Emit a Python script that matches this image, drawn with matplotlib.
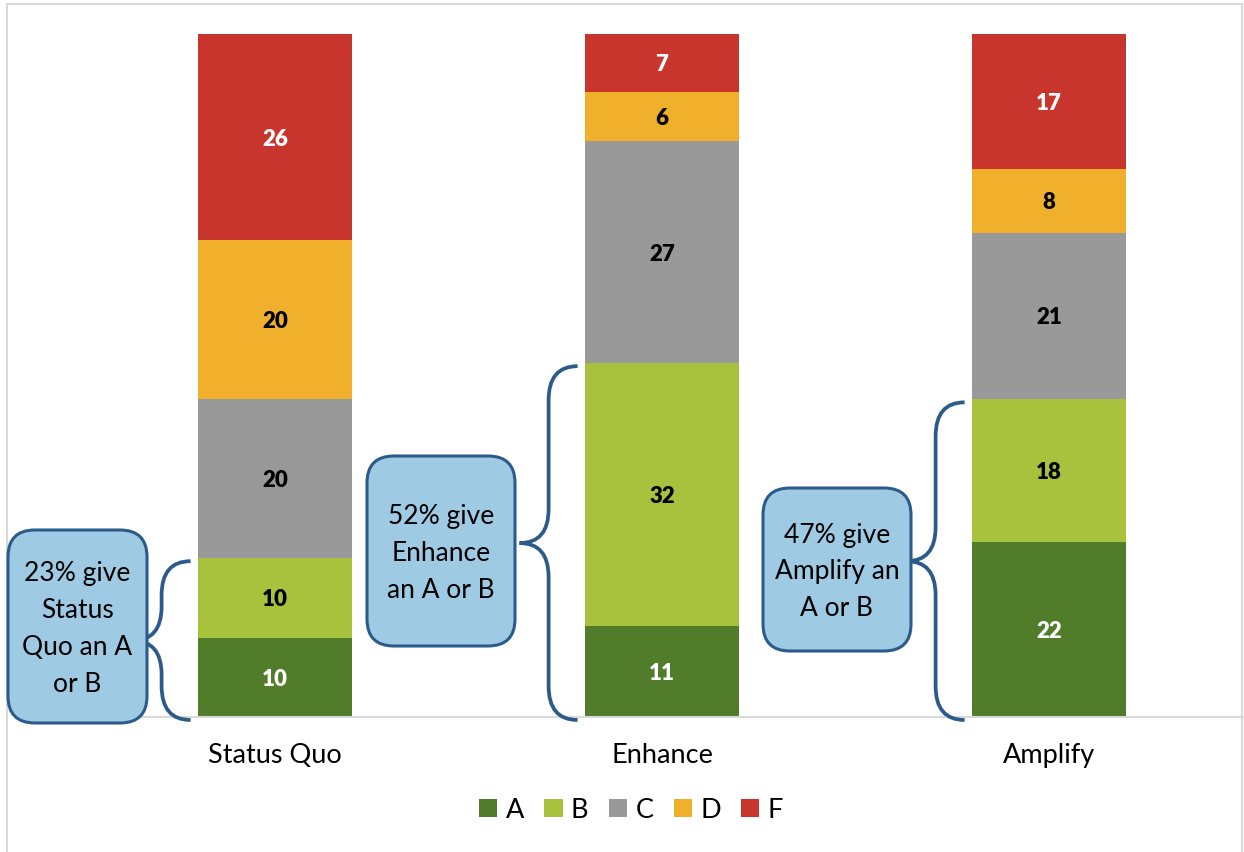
import matplotlib
matplotlib.use("Agg")
import matplotlib.pyplot as plt
from matplotlib.patches import FancyBboxPatch, PathPatch, Rectangle
from matplotlib.path import Path
from matplotlib.transforms import blended_transform_factory
import numpy as np

plt.rcParams["font.family"] = ["Lato", "DejaVu Sans"]

# ---- data -------------------------------------------------------------
categories = ["Status Quo", "Enhance", "Amplify"]
grades = ["A", "B", "C", "D", "F"]
grade_a = [10, 11, 22]
grade_b = [10, 32, 18]
grade_c = [20, 27, 21]
grade_d = [20, 6, 8]
grade_f = [26, 7, 17]
grade_colors = ["#517D2A", "#A8C23D", "#999999", "#F0B02C", "#C7352C"]
value_text_colors = ["white", "black", "black", "black", "white"]

# callout wording, split into lines; {pct} is filled from the A+B share
callout_lines = [
    ["{pct}% give", "Status", "Quo an A", "or B"],
    ["{pct}% give", "Enhance", "an A or B"],
    ["{pct}% give", "Amplify an", "A or B"],
]

# ---- figure -------------------------------------------------------------
W, H = 1244, 852
fig = plt.figure(figsize=(W / 100, H / 100), dpi=100)
ax = fig.add_axes([81.5 / W, 135 / H, 1161 / W, 683 / H])

series = np.array([grade_a, grade_b, grade_c, grade_d, grade_f], dtype=float)
totals = series.sum(axis=0)
shares = series / totals
x = np.arange(len(categories))
bar_w = 0.4

bottom = np.zeros(len(categories))
for g, vals, sh, col, tcol in zip(grades, series, shares, grade_colors, value_text_colors):
    ax.bar(x, sh, bar_w, bottom=bottom, color=col, label=g, linewidth=0, zorder=2)
    for xi, v, s, b in zip(x, vals, sh, bottom):
        ax.text(xi, b + s / 2, f"{int(v)}", ha="center", va="center_baseline",
                fontsize=16, fontweight="heavy", color=tcol, zorder=3)
    bottom += sh

ax.set_xlim(-0.5, len(categories) - 0.5)
ax.set_ylim(0, 1)
for side in ["left", "right", "top"]:
    ax.spines[side].set_visible(False)
ax.spines["bottom"].set_color("#D9D9D9")
ax.spines["bottom"].set_linewidth(1.5)
ax.set_xticks([])
ax.set_yticks([])

# category names under the bars
btrans = blended_transform_factory(ax.transData, ax.transAxes)
for xi, name in zip(x, categories):
    ax.text(xi, -(763 - 717) / 683, name, transform=btrans, ha="center",
            va="baseline", fontsize=19.5, color="black")

# legend
handles, labels = ax.get_legend_handles_labels()
fig.legend(handles, labels, loc="center", bbox_to_anchor=(631 / W, 1 - 810 / H),
           ncol=5, frameon=False, fontsize=19.5, handlelength=0.68,
           handleheight=0.68, handletextpad=0.3, columnspacing=0.75,
           borderaxespad=0)

# outer frame
fig.add_artist(Rectangle((7 / W, -0.05), (1242 - 7) / W, 1 - 4 / H + 0.05,
                         transform=fig.transFigure, fill=False,
                         edgecolor="#D9D9D9", linewidth=1.5))

# ---- callouts and braces ---------------------------------------------------
inch = fig.dpi_scale_trans
edge = "#2C5B8B"
fill = "#9FCAE3"

boxes_px = [(8, 530, 147, 723), (367, 456, 515, 646), (763, 488, 911, 651)]


def px(xp, yp):
    """top-left pixel coordinates -> inches from bottom-left"""
    return xp / 100, (H - yp) / 100


ab_share = shares[0] + shares[1]
for i, (x0, y0, x1, y1) in enumerate(boxes_px):
    bx, by = px(x0, y1)
    box = FancyBboxPatch((bx, by), (x1 - x0) / 100, (y1 - y0) / 100,
                         boxstyle="round,pad=0,rounding_size=0.27",
                         transform=inch, facecolor=fill, edgecolor=edge,
                         linewidth=2.2, zorder=5)
    fig.add_artist(box)
    pct = int(round(ab_share[i] * 100))
    lines = [s.format(pct=pct) for s in callout_lines[i]]
    cx = (x0 + x1) / 2
    cy = (y0 + y1) / 2
    n = len(lines)
    for k, line in enumerate(lines):
        base = cy + (k - (n - 1) / 2) * 36.7 + 10
        tx, ty = px(cx, base)
        fig.text(tx, ty, line, transform=inch, ha="center", va="baseline",
                 fontsize=19, color="black", zorder=6)

    # brace alongside the A+B part of the bar
    left_edge_px = ax.transData.transform((x[i] - bar_w / 2, 0))[0]
    y_bot = ax.transData.transform((0, 0))[1] - 3
    y_top = ax.transData.transform((0, ab_share[i]))[1] - 3
    xr = left_edge_px - 7
    xv = xr - 29
    xt = xv - 29
    ym = (y_bot + y_top) / 2
    r = min(34, (y_top - y_bot) / 4)
    verts = [
        (xr, y_top), (xv, y_top), (xv, y_top - r),
        (xv, ym + r),
        (xv, ym), (xt, ym),
        (xv, ym), (xv, ym - r),
        (xv, y_bot + r),
        (xv, y_bot), (xr, y_bot),
    ]
    codes = [Path.MOVETO, Path.CURVE3, Path.CURVE3,
             Path.LINETO,
             Path.CURVE3, Path.CURVE3,
             Path.CURVE3, Path.CURVE3,
             Path.LINETO,
             Path.CURVE3, Path.CURVE3]
    verts_in = [(vx / fig.dpi, vy / fig.dpi) for vx, vy in verts]
    fig.add_artist(PathPatch(Path(verts_in, codes), transform=inch,
                             facecolor="none", edgecolor=edge, linewidth=2.7,
                             capstyle="butt", zorder=4))

fig.savefig("out.png", dpi=100)
